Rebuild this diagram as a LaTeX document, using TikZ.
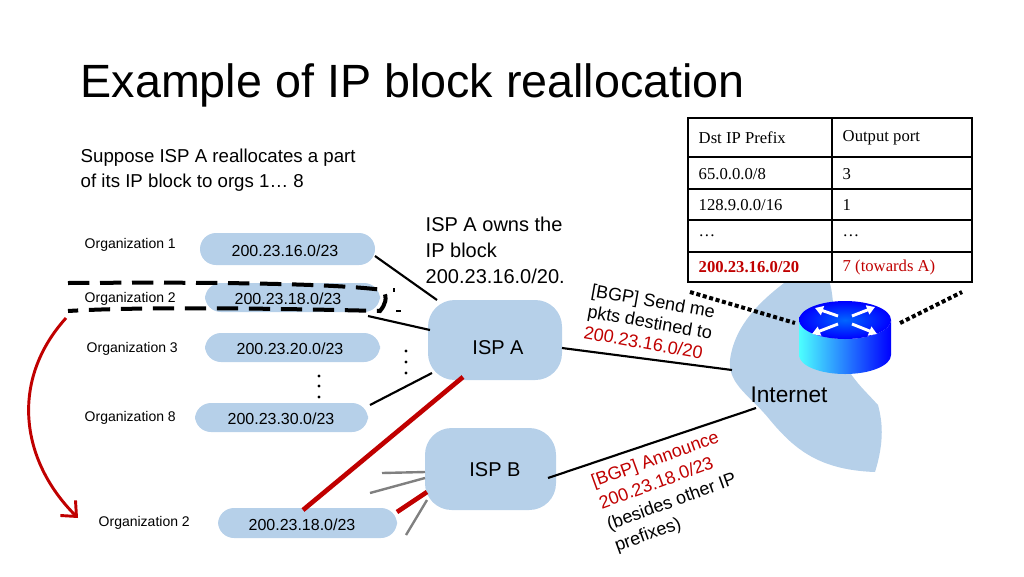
\documentclass[tikz,border=0pt]{standalone}
\usepackage{fontspec}
\setmainfont{Liberation Sans}
\newfontfamily\tabfont{Liberation Serif}
\usetikzlibrary{arrows.meta,calc}
\definecolor{cloud}{HTML}{B6D0E9}
\definecolor{bgpred}{HTML}{C00000}
\begin{document}
\begin{tikzpicture}[x=0.75pt,y=-0.75pt,
  blob/.style={fill=cloud,draw=none,rounded corners=12pt},
  orgtxt/.style={font=\fontsize{10.5}{12}\selectfont,anchor=west},
  pfx/.style={font=\fontsize{12}{14}\selectfont},
  link/.style={line width=1.6pt},
  redlink/.style={line width=3.5pt,bgpred},
  graylink/.style={line width=1.8pt,gray},
  rarrow/.style={white,line width=2.2pt,-{Triangle[length=6pt,width=7pt]}},
  tab/.style={font=\tabfont\fontsize{12.5}{14}\selectfont,anchor=west}]
\useasboundingbox (0,0) rectangle (1024,576);
% title
\node[anchor=west,font=\fontsize{35}{42}\selectfont] (title) at (76,85) {Example of IP block reallocation};
\node[anchor=north west,align=left,font=\fontsize{14}{19}\selectfont] (sup) at (76,144) {Suppose ISP A reallocates a part\\of its IP block to orgs 1\dots\ 8};
% internet cloud
\fill[cloud] (815,262) .. controls (770,290) and (735,320) .. (730,360)
  .. controls (728,385) and (750,395) .. (770,420)
  .. controls (795,450) and (820,470) .. (875,472)
  .. controls (885,440) and (882,420) .. (878,405)
  .. controls (860,385) and (840,370) .. (835,330)
  .. controls (832,300) and (835,275) .. (815,262) -- cycle;
\node[font=\fontsize{17}{20}\selectfont] (inet) at (789,395) {Internet};
% table
\draw[line width=0.8pt,fill=white] (688,118) rectangle (972,282);
\draw[line width=0.8pt] (832,118) -- (832,282);
\foreach \yy in {157,189,220,252} \draw[line width=0.8pt] (688,\yy) -- (972,\yy);
\node[tab] (h1) at (694,138) {Dst IP Prefix};
\node[tab] (h2) at (838,138) {Output port};
\node[tab] (r1a) at (694,174) {65.0.0.0/8};
\node[tab] (r1b) at (838,174) {3};
\node[tab] (r2a) at (694,205) {128.9.0.0/16};
\node[tab] (r2b) at (838,205) {1};
\node[tab] (r3a) at (694,236) {\dots};
\node[tab] (r3b) at (838,236) {\dots};
\node[tab,bgpred,font=\tabfont\bfseries\fontsize{12.5}{14}\selectfont] (r4a) at (694,267) {200.23.16.0/20};
\node[tab,bgpred] (r4b) at (838,267) {7 (towards A)};
% org blobs
\fill[blob] (200,233) rectangle (375,265);
\fill[blob] (205,283) rectangle (380,312);
\fill[blob] (205,333) rectangle (380,362);
\fill[blob] (195,403) rectangle (368,432);
\fill[blob] (218,508) rectangle (397,538);
\node[pfx] (p1) at (285,251) {200.23.16.0/23};
\node[pfx] (p2) at (288,299) {200.23.18.0/23};
\node[pfx] (p3) at (290,349) {200.23.20.0/23};
\node[pfx] (p8) at (281,419) {200.23.30.0/23};
\node[pfx] (pb) at (302,525) {200.23.18.0/23};
\node[orgtxt] (o1) at (80,245) {Organization 1};
\node[orgtxt] (o2) at (80,299) {Organization 2};
\node[orgtxt] (o3) at (82,349) {Organization 3};
\node[orgtxt] (o8) at (80,418) {Organization 8};
\node[orgtxt] (ob) at (94,523) {Organization 2};
% ISP clouds
\fill[blob,rounded corners=20pt] (428,300) rectangle (562,380);
\fill[blob,rounded corners=20pt] (425,428) rectangle (556,510);
\node[font=\fontsize{15}{18}\selectfont] (ispa) at (498,348) {ISP A};
\node[font=\fontsize{15}{18}\selectfont] (ispb) at (495,470) {ISP B};
\node[anchor=north west,align=left,font=\fontsize{15}{19.5}\selectfont] (owns) at (421,212) {ISP A owns the\\IP block\\200.23.16.0/20.};
% links
\coordinate (a1) at (437,300); \coordinate (a2) at (430,330); \coordinate (a8) at (432,373);
\draw[link] (375,256) -- (a1);
\draw[link] (368,316) -- (a2);
\draw[link] (370,405) -- (a8);
\coordinate (ae) at (562,348); \coordinate (ie) at (732,370);
\draw[link] (ae) -- (ie);
\coordinate (be) at (548,478); \coordinate (ib) at (756,408);
\draw[link] (be) -- (ib);
\coordinate (ar) at (463,377); \coordinate (br) at (303,510);
\draw[redlink] (ar) -- (br);
\coordinate (b1) at (427,492); \coordinate (b2) at (397,512);
\draw[redlink] (b2) -- (b1);
\coordinate (g1) at (382,473); \coordinate (g2) at (370,493); \coordinate (g3) at (406,535);
\coordinate (gb1) at (425,472); \coordinate (gb2) at (425,478); \coordinate (gb3) at (427,500);
\draw[graylink] (g1) -- (gb1);
\draw[graylink] (g2) -- (gb2);
\draw[graylink] (g3) -- (gb3);
% dots
\foreach \yy in {351,362,373} \fill (406,\yy) circle (1.6);
\foreach \yy in {376,386,397} \fill (319,\yy) circle (1.6);
% dashed outline around old org2
\draw[line width=3pt,dash pattern=on 16pt off 8pt] (68,283) .. controls (200,282) and (330,283) .. (383,290)
  .. controls (388,298) and (385,305) .. (380,311) .. controls (300,309) and (150,306) .. (68,311);
\draw[line width=2pt] (394,288) -- (394,292);
\draw[line width=2pt] (396,311) -- (401,311);
% router
\shade[left color=cyan!70!white,right color=blue] (799,320) -- (799,355) arc[start angle=180,end angle=0,x radius=46,y radius=19] -- (891,320) arc[start angle=0,end angle=180,x radius=46,y radius=19];
\shade[inner color=blue!60!cyan,outer color=blue] (845,320) ellipse[x radius=46,y radius=19];
\coordinate (rc) at (845,320);
\draw[rarrow] (838,316) -- (815,308);
\draw[rarrow] (852,316) -- (875,307);
\draw[rarrow] (838,324) -- (812,334);
\draw[rarrow] (852,324) -- (877,334);
\draw[line width=3pt,dotted] (690,292) -- (795,323);
\draw[line width=3pt,dotted] (900,323) -- (962,292);
% BGP labels
\node[rotate=-10,align=left,font=\fontsize{13.5}{16}\selectfont] (bgp1) at (650,322) {[BGP] Send me\\pkts destined to\\\textcolor{bgpred}{200.23.16.0/20}};
\node[rotate=20,align=left,font=\fontsize{13.5}{17}\selectfont] (bgp2) at (668,492) {\textcolor{bgpred}{[BGP] Announce}\\\textcolor{bgpred}{200.23.18.0/23}\\(besides other IP\\prefixes)};
% red curved arrow
\draw[bgpred,line width=2.2pt,-{Straight Barb[length=9pt,width=16pt]}] (66,318) .. controls (10,380) and (20,460) .. (78,518);
\end{tikzpicture}
\end{document}
